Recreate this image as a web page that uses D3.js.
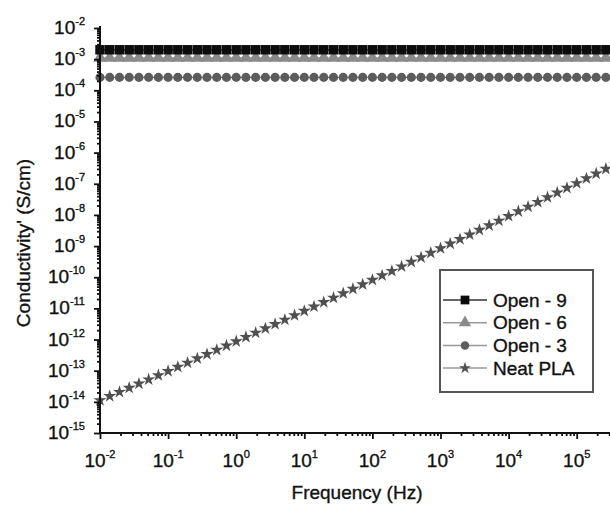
<!DOCTYPE html>
<html>
<head>
<meta charset="utf-8">
<script src="https://cdn.jsdelivr.net/npm/d3@7"></script>
<style>
  body { margin: 0; background: #fff; }
  svg { display: block; font-family: "Liberation Sans", Arial, Helvetica, sans-serif; }
  svg text { stroke: #111; stroke-width: 0.35px; }
</style>
</head>
<body>
<svg id="chart" width="610" height="507"></svg>
<script>
// Measurement frequencies (Hz), 7 points per decade
const freqHz = [
  0.01, 0.01389, 0.01931, 0.02683, 0.03728, 0.05179, 0.07197,
  0.1, 0.1389, 0.1931, 0.2683, 0.3728, 0.5179, 0.7197,
  1, 1.389, 1.931, 2.683, 3.728, 5.179, 7.197,
  10, 13.89, 19.31, 26.83, 37.28, 51.79, 71.97,
  100, 138.9, 193.1, 268.3, 372.8, 517.9, 719.7,
  1000, 1389, 1931, 2683, 3728, 5179, 7197,
  10000, 13895, 19307, 26827, 37276, 51795, 71969,
  100000, 138950, 193070, 268270, 372760
];

// Real part of conductivity (S/cm)
const open9 = [
  2.0e-3, 2.0e-3, 2.0e-3, 2.0e-3, 2.0e-3, 2.0e-3, 2.0e-3,
  2.0e-3, 2.0e-3, 2.0e-3, 2.0e-3, 2.0e-3, 2.0e-3, 2.0e-3,
  2.0e-3, 2.0e-3, 2.0e-3, 2.0e-3, 2.0e-3, 2.0e-3, 2.0e-3,
  2.0e-3, 2.0e-3, 2.0e-3, 2.0e-3, 2.0e-3, 2.0e-3, 2.0e-3,
  2.0e-3, 2.0e-3, 2.0e-3, 2.0e-3, 2.0e-3, 2.0e-3, 2.0e-3,
  2.0e-3, 2.0e-3, 2.0e-3, 2.0e-3, 2.0e-3, 2.0e-3, 2.0e-3,
  2.0e-3, 2.0e-3, 2.0e-3, 2.0e-3, 2.0e-3, 2.0e-3, 2.0e-3,
  2.0e-3, 2.0e-3, 2.0e-3, 2.0e-3, 2.0e-3
];
const open6 = [
  1.1e-3, 1.1e-3, 1.1e-3, 1.1e-3, 1.1e-3, 1.1e-3, 1.1e-3,
  1.1e-3, 1.1e-3, 1.1e-3, 1.1e-3, 1.1e-3, 1.1e-3, 1.1e-3,
  1.1e-3, 1.1e-3, 1.1e-3, 1.1e-3, 1.1e-3, 1.1e-3, 1.1e-3,
  1.1e-3, 1.1e-3, 1.1e-3, 1.1e-3, 1.1e-3, 1.1e-3, 1.1e-3,
  1.1e-3, 1.1e-3, 1.1e-3, 1.1e-3, 1.1e-3, 1.1e-3, 1.1e-3,
  1.1e-3, 1.1e-3, 1.1e-3, 1.1e-3, 1.1e-3, 1.1e-3, 1.1e-3,
  1.1e-3, 1.1e-3, 1.1e-3, 1.1e-3, 1.1e-3, 1.1e-3, 1.1e-3,
  1.1e-3, 1.1e-3, 1.1e-3, 1.1e-3, 1.1e-3
];
const open3 = [
  2.6e-4, 2.6e-4, 2.6e-4, 2.6e-4, 2.6e-4, 2.6e-4, 2.6e-4,
  2.6e-4, 2.6e-4, 2.6e-4, 2.6e-4, 2.6e-4, 2.6e-4, 2.6e-4,
  2.6e-4, 2.6e-4, 2.6e-4, 2.6e-4, 2.6e-4, 2.6e-4, 2.6e-4,
  2.6e-4, 2.6e-4, 2.6e-4, 2.6e-4, 2.6e-4, 2.6e-4, 2.6e-4,
  2.6e-4, 2.6e-4, 2.6e-4, 2.6e-4, 2.6e-4, 2.6e-4, 2.6e-4,
  2.6e-4, 2.6e-4, 2.6e-4, 2.6e-4, 2.6e-4, 2.6e-4, 2.6e-4,
  2.6e-4, 2.6e-4, 2.6e-4, 2.6e-4, 2.6e-4, 2.6e-4, 2.6e-4,
  2.6e-4, 2.6e-4, 2.6e-4, 2.6e-4, 2.6e-4
];
const neatPLA = [
  1.12e-14, 1.52e-14, 2.07e-14, 2.81e-14, 3.82e-14, 5.20e-14, 7.09e-14,
  9.68e-14, 1.32e-13, 1.80e-13, 2.47e-13, 3.38e-13, 4.63e-13, 6.36e-13,
  8.73e-13, 1.20e-12, 1.65e-12, 2.27e-12, 3.13e-12, 4.32e-12, 5.97e-12,
  8.26e-12, 1.14e-11, 1.58e-11, 2.19e-11, 3.04e-11, 4.22e-11, 5.87e-11,
  8.17e-11, 1.14e-10, 1.58e-10, 2.21e-10, 3.09e-10, 4.32e-10, 6.04e-10,
  8.46e-10, 1.19e-9, 1.66e-9, 2.34e-9, 3.29e-9, 4.62e-9, 6.51e-9,
  9.18e-9, 1.30e-8, 1.83e-8, 2.59e-8, 3.66e-8, 5.18e-8, 7.35e-8,
  1.04e-7, 1.48e-7, 2.11e-7, 3.00e-7, 4.27e-7
];

const seriesNames = ["Open - 9", "Open - 6", "Open - 3", "Neat PLA"];
const xTickExponents = [-2, -1, 0, 1, 2, 3, 4, 5];
const yTickExponents = [-2, -3, -4, -5, -6, -7, -8, -9, -10, -11, -12, -13, -14, -15];

const svg = d3.select("#chart");

const x = d3.scaleLog().domain([1e-2, 1e6]).range([100, 100 + 68.1 * 8]);
const y = d3.scaleLog().domain([1e-15, 1e-2]).range([433, 28]);

// Series styles (drawn bottom to top)
const series = [
  { name: seriesNames[3], values: neatPLA, symbol: d3.symbolStar,     size: 52, fill: "#505050", line: "#d4d4d4", legendLine: "#999" },
  { name: seriesNames[2], values: open3,   symbol: d3.symbolCircle,   size: 66, fill: "#5c5c5c", line: "#777",    legendLine: "#999" },
  { name: seriesNames[1], values: open6,   symbol: d3.symbolTriangle, size: 78, fill: "#8a8a8a", line: "#999",    legendLine: "#999" },
  { name: seriesNames[0], values: open9,   symbol: d3.symbolSquare,   size: 90, fill: "#0c0c0c", line: "#222",    legendLine: "#333" }
];

// Data lines and markers
const line = d3.line().x((d, i) => x(freqHz[i])).y(d => y(d));
const plot = svg.append("g");
series.forEach(s => {
  plot.append("path")
    .attr("d", line(s.values))
    .attr("fill", "none")
    .attr("stroke", s.line)
    .attr("stroke-width", 1.2);
  plot.append("g").selectAll("path")
    .data(s.values)
    .join("path")
    .attr("transform", (d, i) => `translate(${x(freqHz[i])},${y(d)})`)
    .attr("d", d3.symbol(s.symbol, s.size))
    .attr("fill", s.fill);
});

// Tick helpers
const majorX = xTickExponents.map(e => Math.pow(10, e)).concat([1e6]);
const minorX = [];
majorX.slice(0, -1).forEach(m => { for (let k = 2; k <= 9; k++) minorX.push(m * k); });
const majorY = yTickExponents.map(e => Math.pow(10, e));
const minorY = [];
majorY.slice(1).forEach(m => { for (let k = 2; k <= 9; k++) minorY.push(m * k); });

function styleAxis(g) {
  g.selectAll("line").attr("stroke", "#111").attr("stroke-width", 1.8);
  g.select(".domain").remove();
}

// X axis
svg.append("g").attr("transform", "translate(0,433)")
  .call(d3.axisBottom(x).tickValues(majorX).tickSize(6).tickFormat(""))
  .call(styleAxis);
svg.append("g").attr("transform", "translate(0,433)")
  .call(d3.axisBottom(x).tickValues(minorX).tickSize(3).tickFormat(""))
  .call(styleAxis);
svg.append("line")
  .attr("x1", 99).attr("x2", x(1e6)).attr("y1", 433).attr("y2", 433)
  .attr("stroke", "#111").attr("stroke-width", 2);

// Y axis
svg.append("g").attr("transform", "translate(100,0)")
  .call(d3.axisLeft(y).tickValues(majorY).tickSize(6).tickFormat(""))
  .call(styleAxis);
svg.append("g").attr("transform", "translate(100,0)")
  .call(d3.axisLeft(y).tickValues(minorY).tickSize(3).tickFormat(""))
  .call(styleAxis);
svg.append("line")
  .attr("x1", 100).attr("x2", 100).attr("y1", 26).attr("y2", 434)
  .attr("stroke", "#111").attr("stroke-width", 2);

// Tick labels as powers of ten
svg.append("g").selectAll("text")
  .data(xTickExponents)
  .join("text")
  .attr("x", d => x(Math.pow(10, d)))
  .attr("y", 467)
  .attr("text-anchor", "middle")
  .attr("font-size", 19)
  .attr("fill", "#111")
  .each(function (d) {
    const t = d3.select(this);
    t.append("tspan").text("10");
    t.append("tspan").attr("font-size", 11).attr("dy", -9).text(d);
  });

svg.append("g").selectAll("text")
  .data(yTickExponents)
  .join("text")
  .attr("x", 85)
  .attr("y", d => y(Math.pow(10, d)) + 6)
  .attr("text-anchor", "end")
  .attr("font-size", 19)
  .attr("fill", "#111")
  .each(function (d) {
    const t = d3.select(this);
    t.append("tspan").text("10");
    t.append("tspan").attr("font-size", 11).attr("dy", -9).text(d);
  });

// Axis titles
svg.append("text")
  .attr("x", 357).attr("y", 499)
  .attr("text-anchor", "middle")
  .attr("font-size", 19)
  .attr("fill", "#111")
  .text("Frequency (Hz)");

svg.append("text")
  .attr("transform", "translate(30,243) rotate(-90)")
  .attr("text-anchor", "middle")
  .attr("font-size", 19)
  .attr("fill", "#111")
  .text("Conductivity' (S/cm)");

// Legend
const legend = svg.append("g");
legend.append("rect")
  .attr("x", 440).attr("y", 270).attr("width", 153).attr("height", 122)
  .attr("fill", "#fff").attr("stroke", "#555").attr("stroke-width", 2);
const legendOrder = [series[3], series[2], series[1], series[0]];
legendOrder.forEach((s, i) => {
  const ly = 300 + i * 22.7;
  legend.append("line")
    .attr("x1", 443).attr("x2", 487).attr("y1", ly).attr("y2", ly)
    .attr("stroke", s.legendLine).attr("stroke-width", 1.5);
  legend.append("path")
    .attr("transform", `translate(465,${ly})`)
    .attr("d", d3.symbol(s.symbol, s.size * 0.85))
    .attr("fill", s.fill);
  legend.append("text")
    .attr("x", 493).attr("y", ly + 6.5)
    .attr("font-size", 19)
    .attr("fill", "#111")
    .text(s.name);
});
</script>
</body>
</html>
